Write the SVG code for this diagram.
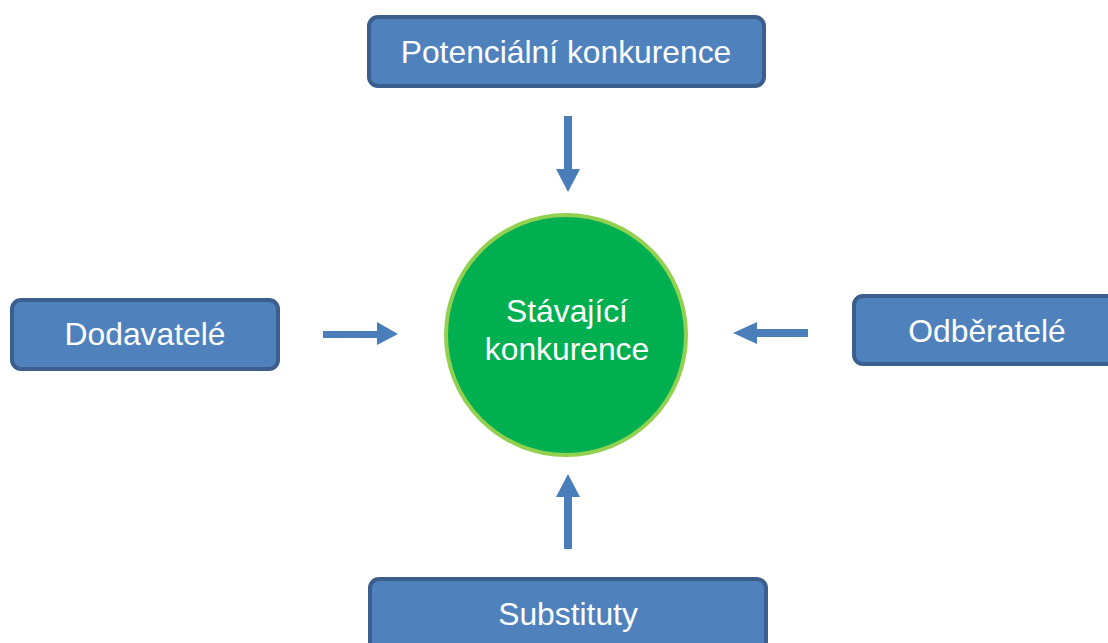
<svg xmlns="http://www.w3.org/2000/svg" width="1108" height="643" viewBox="0 0 1108 643">
<style>
.box{fill:#4f81bd;stroke:#3b5e8c;stroke-width:4}
.t{font-family:"Liberation Sans",Arial,sans-serif;font-size:31.8px;fill:#ffffff;text-anchor:middle}
.arr{fill:#4a7ebb}
</style>
<rect width="1108" height="643" fill="#ffffff"/>
<g id="potencialni">
<rect class="box" x="369" y="17" width="395" height="69" rx="9"/>
<text class="t" x="566" y="63">Potenciální konkurence</text>
</g>
<g id="dodavatele">
<rect class="box" x="12" y="300" width="266" height="69" rx="9"/>
<text class="t" x="145" y="345">Dodavatelé</text>
</g>
<g id="odberatele">
<rect class="box" x="854" y="296" width="262" height="68" rx="9"/>
<text class="t" x="987" y="342">Odběratelé</text>
</g>
<g id="substituty">
<rect class="box" x="370" y="579" width="396" height="80" rx="9"/>
<text class="t" x="568" y="625">Substituty</text>
</g>
<g id="stavajici">
<circle cx="566" cy="335" r="120" fill="#00b050" stroke="#92d050" stroke-width="4"/>
<text class="t" x="567" y="322">Stávající</text>
<text class="t" x="567" y="360">konkurence</text>
</g>
<g id="connectors">
<polygon class="arr" points="564,116 572,116 572,169 580,169 568,192 556,169 564,169"/>
<polygon class="arr" points="323,331 377,331 377,322 398,334 377,345 377,338 323,338"/>
<polygon class="arr" points="808,329 757,329 757,322 733,333 757,344 757,337 808,337"/>
<polygon class="arr" points="564,549 572,549 572,497 580,497 568,474 556,497 564,497"/>
</g>
</svg>
